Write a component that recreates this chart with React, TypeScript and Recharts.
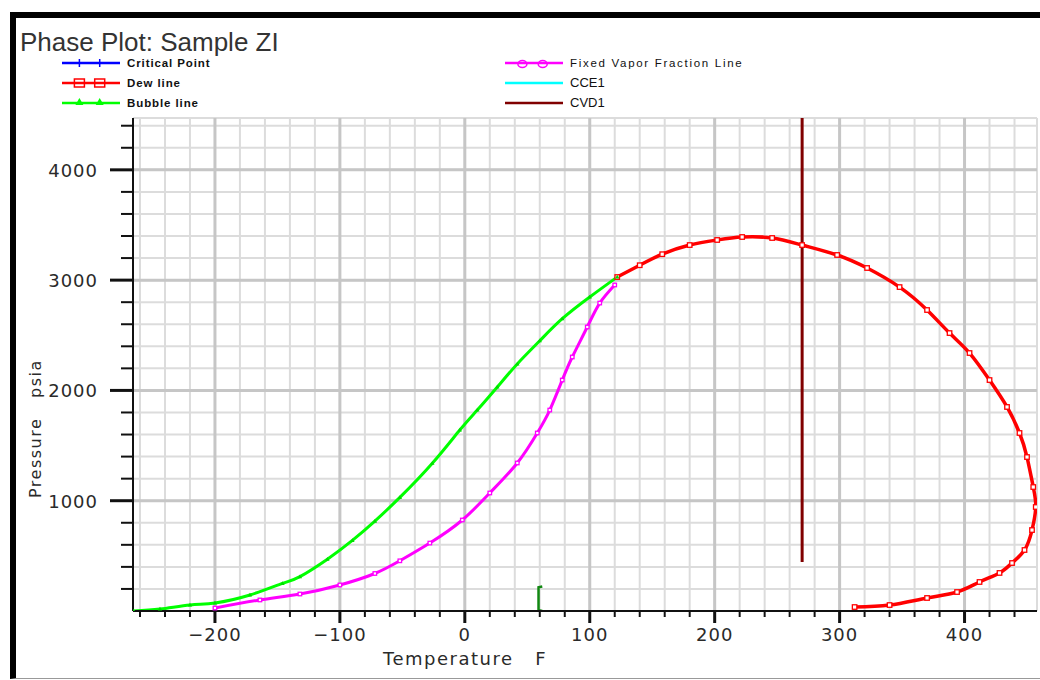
import React from 'react';
import {
  LineChart,
  Line,
  XAxis,
  YAxis,
  CartesianGrid,
  ReferenceLine,
  Legend,
} from 'recharts';

// temperature (F) / pressure (psia)
const dewT = [122, 140, 158, 180, 202, 222, 246, 270, 298, 322, 348, 370, 388, 404, 420, 434, 444, 450, 455, 457, 454, 448, 438, 428, 412, 394, 370, 340, 312];
const dewP = [3028, 3135, 3235, 3318, 3364, 3391, 3382, 3318, 3228, 3110, 2937, 2729, 2520, 2339, 2094, 1850, 1614, 1396, 1124, 943, 734, 553, 435, 345, 263, 172, 118, 54, 36];

const bubbleT = [-265, -244, -220, -200, -172, -146, -132, -110, -90, -72, -52, -26, -4, 10, 26, 42, 60, 78, 100, 122];
const bubbleP = [0, 18, 55, 73, 145, 250, 312, 470, 640, 815, 1030, 1340, 1641, 1822, 2031, 2240, 2450, 2650, 2847, 3028];

const vaporT = [-200, -164, -132, -100, -72, -52, -28, -2, 20, 42, 58, 68, 78, 86, 98, 108, 120];
const vaporP = [27, 100, 154, 236, 340, 455, 616, 825, 1070, 1342, 1614, 1822, 2094, 2303, 2575, 2792, 2956];

const cvdT = [270, 270];
const cvdP = [444, 4470];

const markT = [62, 59, 59, 62];
const markP = [222, 215, 8, 0];

const xTicks = [-260, -240, -220, -200, -180, -160, -140, -120, -100, -80, -60, -40, -20, 0, 20, 40, 60, 80, 100, 120, 140, 160, 180, 200, 220, 240, 260, 280, 300, 320, 340, 360, 380, 400, 420, 440];
const xLabels = [-200, -100, 0, 100, 200, 300, 400];
const yTicks = [200, 400, 600, 800, 1000, 1200, 1400, 1600, 1800, 2000, 2200, 2400, 2600, 2800, 3000, 3200, 3400, 3600, 3800, 4000, 4200, 4400];
const yLabels = [1000, 2000, 3000, 4000];

const toPoints = (xs: number[], ys: number[]) => xs.map((x, i) => ({ x, y: ys[i] }));

const tickFont = { fontFamily: 'DejaVu Sans', fontSize: 18, fill: '#2a2a2a', letterSpacing: 1 };

function XTick(props: any) {
  const { x, y, payload } = props;
  const major = xLabels.includes(payload.value);
  return (
    <g>
      <line x1={x} x2={x} y1={y} y2={y + (major ? 12 : 6)} stroke="#111" strokeWidth={major ? 3 : 2} />
      {major && (
        <text x={x} y={y + 30} textAnchor="middle" {...tickFont}>
          {payload.value < 0 ? '\u2212' + Math.abs(payload.value) : payload.value}
        </text>
      )}
    </g>
  );
}

function YTick(props: any) {
  const { x, y, payload } = props;
  const major = yLabels.includes(payload.value);
  return (
    <g>
      <line x1={x - (major ? 23 : 12)} x2={x} y1={y} y2={y} stroke="#111" strokeWidth={major ? 3 : 2} />
      {major && (
        <text x={x - 35} y={y + 7} textAnchor="end" {...tickFont}>
          {payload.value}
        </text>
      )}
    </g>
  );
}

const square = (color: string, s: number) => (p: any) => (
  <rect key={p.index} x={p.cx - s / 2} y={p.cy - s / 2} width={s} height={s} fill="#fff" stroke={color} strokeWidth={1.3} />
);
const triangle = (color: string, s: number) => (p: any) => (
  <path key={p.index} d={`M${p.cx},${p.cy - s} L${p.cx + s},${p.cy + s * 0.7} L${p.cx - s},${p.cy + s * 0.7} Z`} fill={color} />
);

const legendLeft = [
  { name: 'Critical Point', color: '#0000ff', marker: 'plus' },
  { name: 'Dew line', color: '#ff0000', marker: 'square' },
  { name: 'Bubble line', color: '#00ff00', marker: 'triangle' },
];
const legendRight = [
  { name: 'Fixed Vapor Fraction Line', color: '#ff00ff', marker: 'circle' },
  { name: 'CCE1', color: '#00ffff', marker: 'none' },
  { name: 'CVD1', color: '#800000', marker: 'none' },
];

function legendMarker(kind: string, color: string, cx: number, cy: number) {
  if (kind === 'plus')
    return <path key={cx} d={`M${cx},${cy - 4} V${cy + 4}`} stroke={color} strokeWidth={1.5} />;
  if (kind === 'square')
    return <rect key={cx} x={cx - 5} y={cy - 4} width={10} height={8} fill="none" stroke={color} strokeWidth={1.5} />;
  if (kind === 'triangle')
    return <path key={cx} d={`M${cx},${cy - 5} L${cx + 4},${cy + 2} L${cx - 4},${cy + 2} Z`} fill={color} />;
  if (kind === 'circle')
    return <ellipse key={cx} cx={cx} cy={cy + 1} rx={4.5} ry={3.5} fill="none" stroke={color} strokeWidth={1.5} />;
  return null;
}

function renderLegend() {
  const row = (item: any, i: number, x0: number, len: number, tx: number, font: any) => {
    const cy = 11 + i * 20;
    return (
      <g key={item.name}>
        <line x1={x0} x2={x0 + len} y1={cy} y2={cy} stroke={item.color} strokeWidth={2.5} />
        {legendMarker(item.marker, item.color, x0 + len * 0.3, cy)}
        {legendMarker(item.marker, item.color, x0 + len * 0.65, cy)}
        <text x={tx} y={cy + 4} {...font}>
          {item.name}
        </text>
      </g>
    );
  };
  return (
    <svg width={1040} height={64}>
      {legendLeft.map((it, i) =>
        row(it, i, 62, 58, 127, { fontFamily: 'Liberation Sans', fontSize: 11.5, fontWeight: 'bold', fill: '#111', letterSpacing: 0.9 })
      )}
      {legendRight.map((it, i) =>
        row(it, i, 505, 58, 570, i === 0
          ? { fontFamily: 'Liberation Sans', fontSize: 11.5, fill: '#111', letterSpacing: 1.7 }
          : { fontFamily: 'Liberation Sans', fontSize: 13, fill: '#111' })
      )}
    </svg>
  );
}

export default function App() {
  return (
    <div style={{ position: 'relative', width: 1040, height: 680, background: '#fff', overflow: 'hidden' }}>
      <style>{'body{margin:0}'}</style>
      <div
        style={{
          position: 'absolute', left: 10, top: 12, right: -10, bottom: 1,
          borderTop: '6px solid #000', borderLeft: '6px solid #000', borderBottom: '1px solid #999',
        }}
      />
      <div
        style={{
          position: 'absolute', left: 20, top: 29, fontFamily: 'Liberation Sans', fontSize: 26,
          lineHeight: '26px', color: '#333', whiteSpace: 'pre',
        }}
      >
        Phase Plot: Sample ZI
      </div>
      <LineChart width={1040} height={680} margin={{ top: 118, right: 3, bottom: 29, left: 73 }}>
        <CartesianGrid stroke="#dcdcdc" strokeWidth={2} />
        {xLabels.map((v) => (
          <ReferenceLine key={'x' + v} x={v} stroke="#c6c6c6" strokeWidth={3} />
        ))}
        {yLabels.map((v) => (
          <ReferenceLine key={'y' + v} y={v} stroke="#c6c6c6" strokeWidth={3} />
        ))}
        <XAxis
          type="number"
          dataKey="x"
          domain={[-265.6, 458]}
          allowDataOverflow
          ticks={xTicks}
          interval={0}
          tickSize={0}
          tickMargin={0}
          tickLine={false}
          tick={<XTick />}
          height={40}
          axisLine={{ stroke: '#111', strokeWidth: 2 }}
          label={() => (
            <text x={383} y={665} style={{ whiteSpace: 'pre' }} fontFamily="DejaVu Sans" fontSize={18} fill="#2a2a2a" letterSpacing={1.5}>
              {'Temperature   F'}
            </text>
          )}
        />
        <YAxis
          type="number"
          dataKey="y"
          domain={[0, 4470]}
          allowDataOverflow
          ticks={yTicks}
          interval={0}
          tickSize={0}
          tickMargin={0}
          tickLine={false}
          tick={<YTick />}
          width={60}
          axisLine={{ stroke: '#111', strokeWidth: 2 }}
          label={() => (
            <text
              x={41}
              y={498}
              transform="rotate(-90 41 498)"
              style={{ whiteSpace: 'pre' }}
              fontFamily="DejaVu Sans"
              fontSize={16}
              fill="#2a2a2a"
              letterSpacing={1.5}
            >
              {'Pressure   psia'}
            </text>
          )}
        />
        <Legend
          layout="vertical"
          align="center"
          verticalAlign="middle"
          content={renderLegend}
          wrapperStyle={{ top: 52, left: 0, width: 1040, height: 64 }}
        />
        <Line name="CVD1" data={toPoints(cvdT, cvdP)} dataKey="y" type="linear" stroke="#800000" strokeWidth={3} dot={false} activeDot={false} isAnimationActive={false} />
        <Line name="Mark" data={toPoints(markT, markP)} dataKey="y" type="linear" stroke="#118811" strokeWidth={2.5} dot={false} activeDot={false} isAnimationActive={false} />
        <Line name="Dew line" data={toPoints(dewT, dewP)} dataKey="y" type="natural" stroke="#ff0000" strokeWidth={3.5} dot={square('#ff0000', 4.5)} activeDot={false} isAnimationActive={false} />
        <Line name="Fixed Vapor Fraction Line" data={toPoints(vaporT, vaporP)} dataKey="y" type="natural" stroke="#ff00ff" strokeWidth={3} dot={square('#ff00ff', 3.5)} activeDot={false} isAnimationActive={false} />
        <Line name="Bubble line" data={toPoints(bubbleT, bubbleP)} dataKey="y" type="natural" stroke="#00ff00" strokeWidth={3} dot={triangle('#00dd00', 2.2)} activeDot={false} isAnimationActive={false} />
      </LineChart>
    </div>
  );
}
